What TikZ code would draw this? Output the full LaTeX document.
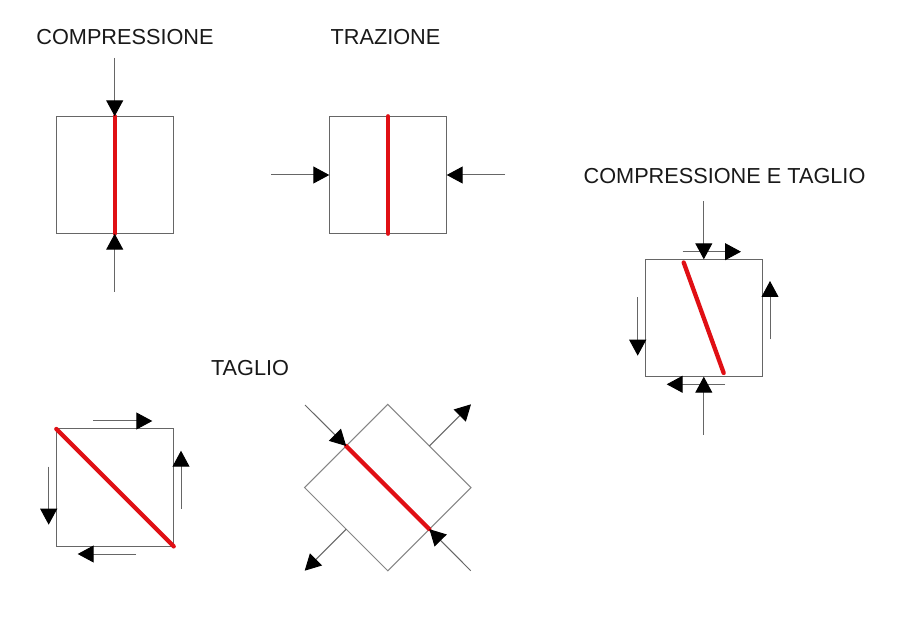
\documentclass[tikz,border=0pt]{standalone}
\usepackage{fontspec}
\setmainfont{Liberation Sans}
\usetikzlibrary{arrows.meta,shapes.geometric}
\definecolor{thinline}{HTML}{666666}
\definecolor{crackred}{HTML}{E00F14}
\tikzset{
  panel/.style={draw=thinline,line width=1pt,rectangle,minimum size=117.4pt,inner sep=0pt,outer sep=0pt},
  rhomb/.style={draw=thinline!80,line width=1pt,diamond,aspect=1,minimum width=166.4pt,minimum height=166.4pt,inner sep=0pt,outer sep=0pt},
  force/.style={draw=thinline,line width=1pt,-{Triangle[length=16pt,width=17pt,color=black]}},
  crack/.style={draw=crackred,line width=4.3pt,line cap=round},
  caption/.style={font=\fontsize{21.7}{26}\selectfont,inner sep=0pt,text=black!90}
}
\begin{document}
\begin{tikzpicture}[x=1pt,y=-1pt]
\useasboundingbox (0,0) rectangle (900,617);
\fill[white] (0,0) rectangle (900,617);
% captions
\node[caption] (t1) at (125,37.5) {COMPRESSIONE};
\node[caption] (t2) at (385.5,37.5) {TRAZIONE};
\node[caption] (t3) at (724.5,176.5) {COMPRESSIONE E TAGLIO};
\node[caption] (t4) at (250,368.5) {TAGLIO};
% panels
\node[panel] (a) at (114.7,175) {};
\node[panel] (b) at (388,175) {};
\node[panel] (c) at (703.8,318) {};
\node[panel] (d) at (115,487.7) {};
\node[rhomb] (e) at (387.8,487.6) {};
% free ends
\coordinate (a1) at (114.7,58);
\coordinate (a2) at (114.7,292);
\coordinate (b1) at (271,175);
\coordinate (b2) at (505,175);
\coordinate (c1) at (703.8,201.5);
\coordinate (c2) at (703.8,435);
\coordinate (c3s) at (682.7,251.7);
\coordinate (c3e) at (741,251.7);
\coordinate (c4s) at (725,384.3);
\coordinate (c4e) at (666.7,384.3);
\coordinate (c5s) at (637.7,297.3);
\coordinate (c5e) at (637.7,355.7);
\coordinate (c6s) at (770,339.3);
\coordinate (c6e) at (770,281);
\coordinate (cr1) at (683.7,262.5);
\coordinate (cr2) at (723.7,373);
\coordinate (d1s) at (93.3,421);
\coordinate (d1e) at (152.3,421);
\coordinate (d2s) at (136,554);
\coordinate (d2e) at (77.7,554);
\coordinate (d3s) at (48.7,466.7);
\coordinate (d3e) at (48.7,524.7);
\coordinate (d4s) at (181,508.7);
\coordinate (d4e) at (181,450.7);
\coordinate (e1) at (305,405);
\coordinate (e2) at (470.7,570.7);
\coordinate (e3) at (471,404.3);
\coordinate (e4) at (304.7,570.7);
% cracks
\draw[crack] (a.north) -- (a.south);
\draw[crack] (b.north) -- (b.south);
\draw[crack] (cr1) -- (cr2);
\draw[crack] (d.north west) -- (d.south east);
\draw[crack] (e.north west) -- (e.south east);
% forces
\draw[force] (a1) -- (a.north);
\draw[force] (a2) -- (a.south);
\draw[force] (b1) -- (b.west);
\draw[force] (b2) -- (b.east);
\draw[force] (c3s) -- (c3e);
\draw[force] (c4s) -- (c4e);
\draw[force] (c1) -- (c.north);
\draw[force] (c2) -- (c.south);
\draw[force] (c5s) -- (c5e);
\draw[force] (c6s) -- (c6e);
\draw[force] (d1s) -- (d1e);
\draw[force] (d2s) -- (d2e);
\draw[force] (d3s) -- (d3e);
\draw[force] (d4s) -- (d4e);
\draw[force] (e1) -- (e.north west);
\draw[force] (e2) -- (e.south east);
\draw[force] (e.north east) -- (e3);
\draw[force] (e.south west) -- (e4);
\end{tikzpicture}
\end{document}
